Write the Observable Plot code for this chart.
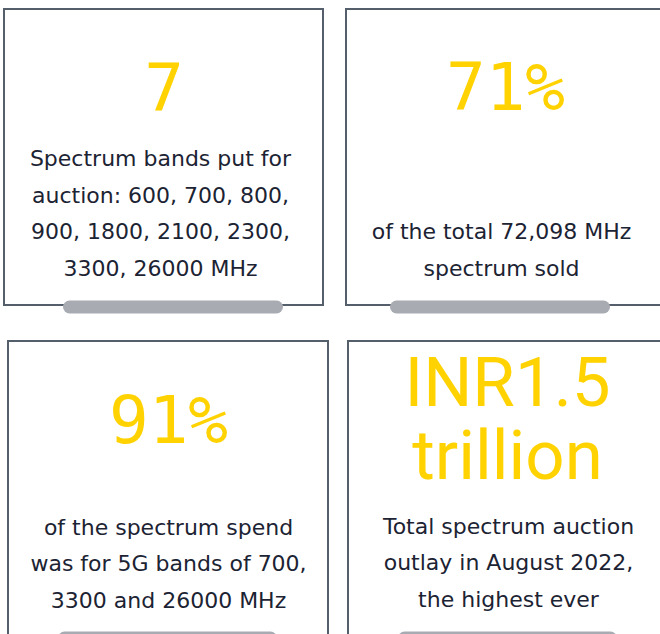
<!DOCTYPE html>
<html>
<head>
<meta charset="utf-8">
<script src="https://cdn.jsdelivr.net/npm/d3@7"></script>
<script src="https://cdn.jsdelivr.net/npm/@observablehq/plot@0.6"></script>
<style>
  html, body { margin: 0; padding: 0; background: #fff; overflow: hidden; }
  #chart svg { display: block; }
</style>
</head>
<body>
<div id="chart"></div>
<script>
// ---- data ----
const headlines = ["7", "71%", "91%", "INR1.5\ntrillion"];
const descriptions = [
  "Spectrum bands put for\nauction: 600, 700, 800,\n900, 1800, 2100, 2300,\n3300, 26000 MHz",
  "of the total 72,098 MHz\nspectrum sold",
  "of the spectrum spend\nwas for 5G bands of 700,\n3300 and 26000 MHz",
  "Total spectrum auction\noutlay in August 2022,\nthe highest ever"
];

// ---- layout (page coordinates) ----
const W = 660, H = 634;
const boxes = [
  {x1: 4,   x2: 323, y1: 9,   y2: 305, p1: 63,  p2: 283, py: 306.5, hx: 163.5, hy: 110, bx: 160, by: 275},
  {x1: 346, x2: 668, y1: 9,   y2: 305, p1: 390, p2: 610, py: 306.5, hx: 505,   hy: 109, bx: 501, by: 275},
  {x1: 8,   x2: 328, y1: 341, y2: 680, p1: 58,  p2: 277, py: 637.5, hx: 168,   hy: 442, bx: 168, by: 607},
  {x1: 348, x2: 668, y1: 341, y2: 680, p1: 398, p2: 617, py: 637.5, hx: 507,   hy: 478, bx: 508, by: 606}
];
const cards = headlines.map((h, i) => ({headline: h, description: descriptions[i], ...boxes[i]}));
const monoCards = cards.filter((d, i) => i < 3);
const sansCards = cards.filter((d, i) => i === 3);

const YELLOW = "#ffd200", BORDER = "#555e6b", PILL = "#a8acb2", INK = "#1c2333";

const chart = Plot.plot({
  width: W, height: H,
  margin: 0,
  x: {domain: [0, W], range: [0, W], axis: null},
  y: {domain: [0, H], range: [0, H], axis: null},
  style: {background: "#fff", overflow: "hidden"},
  marks: [
    Plot.rect(cards, {x1: "x1", x2: "x2", y1: "y1", y2: "y2", fill: "#fff", stroke: BORDER, strokeWidth: 2}),
    Plot.ruleY(cards, {y: "py", x1: d => d.p1 + 6.5, x2: d => d.p2 - 6.5, stroke: PILL, strokeWidth: 13, strokeLinecap: "round"}),
    Plot.text(monoCards, {x: "hx", y: "hy", text: "headline", fill: YELLOW, fontSize: 66,
      fontFamily: "DejaVu Sans Mono", textAnchor: "middle", lineAnchor: "bottom"}),
    Plot.text(sansCards, {x: "hx", y: "hy", text: "headline", fill: YELLOW, fontSize: 69,
      fontFamily: "Roboto", textAnchor: "middle", lineAnchor: "bottom", lineHeight: 73 / 69}),
    Plot.text(cards, {x: "bx", y: "by", text: "description", fill: INK, fontSize: 22,
      fontFamily: "DejaVu Sans", textAnchor: "middle", lineAnchor: "bottom", lineHeight: 36.5 / 22})
  ]
});
document.getElementById("chart").appendChild(chart);
</script>
</body>
</html>
